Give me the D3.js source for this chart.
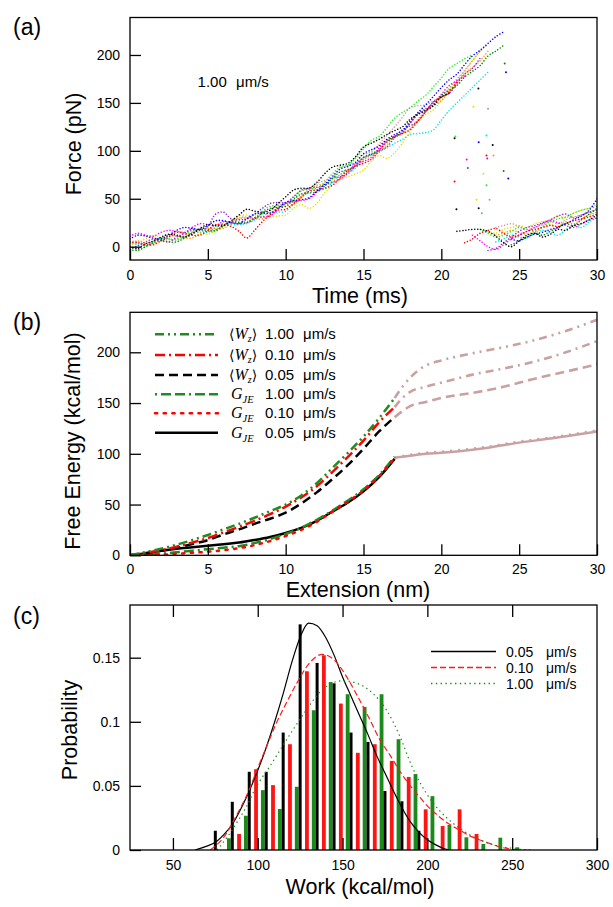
<!DOCTYPE html>
<html><head><meta charset="utf-8">
<script src="https://cdn.jsdelivr.net/npm/d3@7/dist/d3.min.js"></script>
<style>html,body{margin:0;padding:0;background:#fff;}svg{display:block;}</style>
</head><body>
<svg id="chart" width="613" height="907"></svg>
<script>
// ================= DATA =================
// ---- Panel (a): force traces (pN), sampled every 0.5 ms ----
const timeStep = 0.5;
const timeTicks = [0, 5, 10, 15, 20, 25, 30];
const forceTicks = [0, 50, 100, 150, 200];

const preBlack  = [0,-2,3,6,10,13,12,10,13,19,23,22,22,27,33,39,37,36,38,45,52,59,61,61,67,76,83,85,87,94,104,108,112,117,121,125,133,138,142,147,156,160];
const postBlack = [16,17,18,18,16,11,4,0,6,12,14,10,13,18,17,22,24,28,33];
const preRed    = [5,4,2,2,6,10,15,14,12,12,17,23,23,21,16,9,17,26,33,38,39,45,52,58,59,61,64,72,80,84,87,91,100,109,114,118,122,131,141,151,156,161,172];
const postRed   = [4,8,14,17,19,14,10,12,16,18,20,22,21,24,27,29,31,34];
const preLime   = [-1,-3,0,5,9,8,8,12,17,17,16,16,21,26,26,26,30,37,42,43,44,51,58,60,61,67,76,83,85,93,102,111,115,124,134,140,145,152,158,167,176,186,191,196,200];
const postLime  = [18,14,10,12,16,20,18,16,21,26,29,31,35,38,40,42];
const preBlue   = [8,12,11,9,8,12,17,20,19,18,22,27,27,25,24,29,34,35,35,40,46,48,49,51,58,65,73,81,84,88,97,101,105,112,117,121,131,140,148,157,166,174,180,190,199,205,212,219,224];
const postBlue  = [8,6,10,13,15,18,20,24,28,32,38,50];
const preYellow = [1,4,8,11,9,7,7,11,15,14,13,17,22,27,32,33,32,31,31,32,33,40,44,40,45,56,64,71,73,76,80,89,95,92,98,108,120,132,138,143,153,163,173,183,194,204];
const postYellow= [16,14,18,20,22,20,24,26,28,32,30,35,38,40,44];
const preMagenta= [11,14,12,11,15,17,16,15,20,24,23,22,26,25,24,25,30,31,32,39,45,47,48,50,57,64,67,70,78,86,89,93,103,111,115,119,129,139,144,149,159,168,173,178];
const postMagenta=[12,6,0,-3,2,8,12,16,20,24,27,25,22,20,24,28,30];
const preCyan   = [4,2,1,5,9,8,7,10,15,15,15,20,24,23,23,24,28,34,35,36,37,44,51,57,59,60,67,75,78,82,91,96,99,103,108,112,117,118,119,122,132,142,150,158,166,174,182];
const postCyan  = [5,8,12,10,9,14,17,15,12,18,22,20,26,30];
const prePurple = [-2,1,5,8,6,5,10,14,18,17,21,34,36,29,28,29,34,40,45,46,46,52,59,61,62,64,71,73,76,85,93,96,100,104,114,122,126,131,141,151,156,160,170,180,186,197];
const postPurple= [-4,-2,4,10,16,20,22,25,28,32,34,30,33,36,38];
const preOrange = [3,6,4,3,7,11,11,9,9,14,19,19,19,24,29,30,29,29,34,41,42,44,51,58,64,65,68,71,78,87,91,95,98,106,115,118,123,133,142,147,152,162,172,181,187,194,204];
const postOrange= [12,14,17,15,13,16,20,23,21,26,24,29,33,36];
const preRosy   = [6,5,3,6,9,12,11,10,15,19,19,18,22,26,30,31,30,31,37,43,45,47,53,60,66,69,72,75,83,92,96,99,107,116,125,135,145,147,148,152,157,165,175,184,194,204,211];
const postRosy  = [20,22,24,21,18,20,23,26,24,28,31,33,36,39];
const preDkGreen= [-3,-4,0,4,7,5,5,9,14,18,17,17,22,26,25,25,29,35,40,41,42,49,55,56,57,63,71,78,80,84,93,97,101,110,115,119,129,138,143,148,158,163,168,177,183,189,199,204,210];
const postDkGreen=[2,6,10,14,12,16,20,24,22,28,34,40];
// time (ms) at which each post-rupture segment starts
const postStartTimes = [23, 23.5, 23.5, 23.5, 22.5, 22, 23, 24.5, 21.5, 24.5, 21];

// isolated points during rupture
const jumpTime  = [20.85,20.9,20.85,20.97,22.06,23.0,22.4,22.9,23.3,22.9,22.95,23.35,21.63,21.7,22.7,22.9,24.07,24.15,22.38,24.0,24.3,22.26,22.4,23.1,22.6];
const jumpForce = [113,115,68,39,146,144,109,116,106,95,92,95,91,82,76,64,191,182,165,79,71,49,40,49,35];

// ---- Panel (b): free energy (kcal/mol) vs extension (nm) ----
const extTicks = [0, 5, 10, 15, 20, 25, 30];
const energyTicks = [0, 50, 100, 150, 200];
const extGrid = [0,1,2,3,4,5,6,7,8,9,10,11,12,13,14,15,16,17];
const wzFast  = [0,3.2,6.6,10.5,15,20,25.5,31,37,43.5,50,59,71,86,101,117,135,155];
const wzMid   = [0,2.5,5,8.5,12.5,17,22.5,28,34,40.5,48,57,68,82,97,113,131,146];
const wzSlow  = [0,2,4.5,7.5,11,15,20.5,25.5,31,36,42,51,62,75,89,105,122,136];
const gjeFast = [0,0.5,1.5,3,4.5,6,7.5,9,12,16,21,27,35,44,54,65,79,97];
const gjeMid  = [0,0,0.5,1.5,2.5,3.5,5,7,10,14,19,25,33,43,53,64,78,96];
const gjeSlow = [0,2,4.5,6.5,8,9.5,11,12.5,15,18,22,27,34,43,52,63,77,95];
const contTopExt = [17,17.5,18,18.5,19,20,22,24,26,28,30];
const contTopG   = [155,166,175,182,187,192,199,205,212,221,232];
const contMidExt = [17,17.5,18,19,20,22,24,26,28,30];
const contMidG   = [146,155,161,166,170,178,184,191,200,211];
const contBotG   = [136,142,147,151,155,160,166,174,181,188];
const contJeExt  = [17,18,19,20,22,23,25,27,30];
const contJeG    = [96,98,100,101,104,106,111,115,122];
const contJeG2   = [96,99,101,102,105,107,112,116,123];
const legendSpeedsB = ["1.00","0.10","0.05","1.00","0.10","0.05"];

// ---- Panel (c): work histograms ----
const workTicks = [50, 100, 150, 200, 250, 300];
const probTicks = [0, 0.05, 0.1, 0.15];
const binSlow  = [75,85,95,105,115,125,135,145,155,165,175,185,195];
const probSlow = [0.015,0.0376,0.061,0.061,0.0916,0.176,0.1459,0.130,0.0916,0.0843,0.046,0.038,0.015];
const binMid   = [89,99,109,119,129,139,149,159,169,179,189,199,209,219,229];
const probMid  = [0.0125,0.063,0.0506,0.0825,0.1394,0.1519,0.1142,0.0758,0.0825,0.0695,0.057,0.0317,0.0187,0.0317,0.0125];
const binFast  = [83,93,103,113,123,133,143,153,163,173,183,193,203,213,223,233,243,253];
const probFast = [0.0091,0.0267,0.0467,0.032,0.0493,0.109,0.131,0.1215,0.1116,0.1215,0.0864,0.0592,0.042,0.0195,0.0099,0.0047,0.0096,0.0021];
const fitSlowW = [63,70,75,80,85,90,95,100,105,110,115,120,125,130,135,140,145,150,155,160,165,170,175,180,185,190,195,200,205,210,213];
const fitSlowP = [0,0.003,0.006,0.012,0.02,0.032,0.046,0.062,0.08,0.1,0.122,0.146,0.166,0.177,0.175,0.166,0.152,0.135,0.12,0.105,0.09,0.074,0.06,0.046,0.033,0.022,0.014,0.008,0.004,0.001,0];
const fitMidW  = [72,80,87.5,95,100,105,111,117,123,130,138,146,152,158,166,172,178,184,190,195,201,207,213,219,225,231,237,242,248,252];
const fitMidP  = [0,0.01,0.027,0.047,0.064,0.08,0.099,0.115,0.13,0.145,0.1526,0.147,0.136,0.122,0.102,0.086,0.074,0.061,0.05,0.042,0.033,0.026,0.02,0.0156,0.011,0.0078,0.005,0.0026,0.001,0];
const fitFastW = [76,82,87.5,93,99,107,117,127,138,150,156,162,168,176,184,191,199,207,215,227,238,250,262];
const fitFastP = [0,0.01,0.021,0.033,0.049,0.065,0.086,0.106,0.125,0.132,0.131,0.128,0.122,0.109,0.088,0.065,0.045,0.031,0.021,0.0104,0.0044,0.0013,0];
const legendSpeedsC = ["0.05","0.10","1.00"];

// ================= STYLE / DRAW =================
const FONT = "'Liberation Sans',Arial,sans-serif";
const SERIF = "'Liberation Serif','DejaVu Serif',serif";
const GREEN = "#1e8c1e", RED = "#ff0000", BROWN = "#c9a1a1";
const svg = d3.select("#chart");
const defs = svg.append("defs");
function clip(id,x0,y0,x1,y1){ defs.append("clipPath").attr("id",id).append("rect").attr("x",x0).attr("y",y0).attr("width",x1-x0).attr("height",y1-y0); }
function frame(x0,y0,x1,y1){ svg.append("rect").attr("x",x0).attr("y",y0).attr("width",x1-x0).attr("height",y1-y0).attr("fill","none").attr("stroke","#000").attr("stroke-width",1.3); }
function styleAxis(g){ g.select(".domain").remove(); g.selectAll("line").attr("stroke","#000").attr("stroke-width",1.3); g.selectAll("text").attr("font-family",FONT).attr("font-size",14).attr("fill","#000"); }
function txt(x,y,s,size,anchor){ return svg.append("text").attr("x",x).attr("y",y).attr("font-family",FONT).attr("font-size",size).attr("text-anchor",anchor||"start").attr("fill","#000").text(s); }
function ytitle(x,y,s){ svg.append("text").attr("transform",`translate(${x},${y}) rotate(-90)`).attr("text-anchor","middle").attr("dominant-baseline","central").attr("font-family",FONT).attr("font-size",21.5).text(s); }

// ---------- Panel (a) ----------
const xA = d3.scaleLinear().domain([0,30]).range([130,597]);
const yA = d3.scaleLinear().domain([-13.9,239.1]).range([260,17.5]);
clip("clipA",130,17.5,597,260);
const traces = [
  [preYellow,postYellow],[preCyan,postCyan],[preOrange,postOrange],[preRosy,postRosy],
  [preLime,postLime],[preMagenta,postMagenta],[prePurple,postPurple],[preDkGreen,postDkGreen],
  [preRed,postRed],[preBlue,postBlue],[preBlack,postBlack]
];
const traceColors = ["#e6e000","#00e5ee","#ff9900","#cc9999","#22ee22","#ff00ff","#9922cc","#008800","#ff0000","#0000ff","#000000"];
const jumpColor = ["#000","#22ee22","#ff0000","#000","#e6e000","#aa9999","#0000ff","#00e5ee","#000","#ff0000","#9922cc","#ff9900","#ff00ff","#9922cc","#e6e000","#22ee22","#008800","#0000ff","#000","#008800","#0000ff","#e6e000","#000","#aa9999","#22ee22"];
const gA = svg.append("g").attr("clip-path","url(#clipA)");
const dotLine = d3.line().x(d=>xA(d[0])).y(d=>yA(d[1])).curve(d3.curveCatmullRom.alpha(0.5));
traces.forEach((tr,k)=>{
  const prePts = tr[0].map((v,i)=>[i*timeStep, v]);
  const postPts = tr[1].map((v,i)=>[postStartTimes[k]+i*timeStep, v]);
  [prePts, postPts].forEach(pts=>{
    gA.append("path").attr("d",dotLine(pts)).attr("fill","none").attr("stroke",traceColors[k])
      .attr("stroke-width",1.6).attr("stroke-linecap","round").attr("stroke-dasharray","0 3");
  });
});
gA.selectAll("circle.j").data(jumpTime).join("circle").attr("class","j")
  .attr("cx",d=>xA(d)).attr("cy",(d,i)=>yA(jumpForce[i])).attr("r",1).attr("fill",(d,i)=>jumpColor[i]);
svg.append("g").attr("transform","translate(0,260)").call(d3.axisBottom(xA).tickValues(timeTicks).tickSize(-11).tickPadding(10).tickFormat(d3.format("d"))).call(styleAxis);
svg.append("g").attr("transform","translate(130,0)").call(d3.axisLeft(yA).tickValues(forceTicks).tickSize(-11).tickPadding(10).tickFormat(d3.format("d"))).call(styleAxis);
frame(130,17.5,597,260);
txt(197.6,87,"1.00",15); txt(236,87,"μm/s",15);
txt(360,303,"Time (ms)",21.5,"middle");
ytitle(74,144,"Force (pN)");
txt(13,35,"(a)",23);

// ---------- Panel (b) ----------
const xB = d3.scaleLinear().domain([0,30]).range([130,597]);
const yB = d3.scaleLinear().domain([0,239.4]).range([555.3,312.3]);
clip("clipB",130,312.3,597,555.3);
const gB = svg.append("g").attr("clip-path","url(#clipB)");
const lineB = d3.line().x(d=>xB(d[0])).y(d=>yB(d[1])).curve(d3.curveMonotoneX);
function drawB(xs, ys, color, dash, w){
  const p = gB.append("path").attr("d",lineB(xs.map((x,i)=>[x,ys[i]]))).attr("fill","none")
    .attr("stroke",color).attr("stroke-width",w||2.5);
  if(dash) p.attr("stroke-dasharray",dash);
  return p;
}
const stylesB = [
  {c:GREEN, d:"9,4,2,4,2,4"},
  {c:RED, d:"10,4,2,4"},
  {c:"#000", d:"9,5"},
  {c:GREEN, d:"2,4,10,4,10,4"},
  {c:RED, d:"2.2,6.5"},
  {c:"#000", d:null}
];
drawB(contJeExt, contJeG, BROWN, null, 2.5);
drawB(contJeExt, contJeG2, BROWN, "2,6", 2.5);
drawB(contTopExt, contTopG, BROWN, "8,5,2,5,2,5", 2.6);
drawB(contMidExt, contMidG, BROWN, "8,5,2,5", 2.6);
drawB(contMidExt, contBotG, BROWN, "9,5", 2.6);
drawB(extGrid, gjeSlow, stylesB[5].c, stylesB[5].d);
drawB(extGrid, gjeFast, stylesB[3].c, stylesB[3].d);
drawB(extGrid, gjeMid, stylesB[4].c, stylesB[4].d).attr("stroke-linecap","round");
drawB(extGrid, wzSlow, stylesB[2].c, stylesB[2].d);
drawB(extGrid, wzMid, stylesB[1].c, stylesB[1].d);
drawB(extGrid, wzFast, stylesB[0].c, stylesB[0].d);
svg.append("g").attr("transform","translate(0,555.3)").call(d3.axisBottom(xB).tickValues(extTicks).tickSize(-11).tickPadding(9).tickFormat(d3.format("d"))).call(styleAxis);
svg.append("g").attr("transform","translate(130,0)").call(d3.axisLeft(yB).tickValues(energyTicks).tickSize(-11).tickPadding(10).tickFormat(d3.format("d"))).call(styleAxis);
frame(130,312.3,597,555.3);
// legend (b)
const rowYB = [334.3,355,375,394.3,413.3,432.7];
legendSpeedsB.forEach((s,i)=>{
  const y = rowYB[i];
  const l = svg.append("line").attr("x1",155).attr("x2",218).attr("y1",y).attr("y2",y)
    .attr("stroke",stylesB[i].c).attr("stroke-width",2.6);
  if(stylesB[i].d) l.attr("stroke-dasharray",stylesB[i].d);
  if(i===4) l.attr("stroke-linecap","round");
  const t = svg.append("text").attr("x",229).attr("y",y+5).attr("font-family",SERIF).attr("font-size",16).attr("fill","#000");
  if(i<3){
    t.append("tspan").attr("font-family","'DejaVu Serif',serif").attr("font-size",14).text("⟨");
    t.append("tspan").attr("font-style","italic").text("W");
    t.append("tspan").attr("font-style","italic").attr("font-size",10).attr("dy",3).text("z");
    t.append("tspan").attr("font-family","'DejaVu Serif',serif").attr("font-size",14).attr("dy",-3).text("⟩");
  } else {
    t.append("tspan").attr("x",231).attr("font-style","italic").text("G");
    t.append("tspan").attr("font-style","italic").attr("font-size",10.5).attr("dy",4).text("JE");
  }
  txt(265,y+5,s,15); txt(303,y+5,"μm/s",15);
});
txt(358,597,"Extension (nm)",21.5,"middle");
ytitle(73,441,"Free Energy (kcal/mol)");
txt(13,330,"(b)",23);

// ---------- Panel (c) ----------
const xC = d3.scaleLinear().domain([24.7,300]).range([130,597]);
const yC = d3.scaleLinear().domain([0,0.1911]).range([850,605]);
clip("clipC",130,605,597,850);
const gC = svg.append("g").attr("clip-path","url(#clipC)");
function bars(bins, probs, color, w){
  gC.append("g").selectAll("rect").data(bins).join("rect")
    .attr("x",d=>xC(d)-w/2).attr("width",w)
    .attr("y",(d,i)=>yC(probs[i])).attr("height",(d,i)=>yC(0)-yC(probs[i])).attr("fill",color);
}
bars(binFast, probFast, "#1a8a1a", 3.8);
bars(binMid, probMid, "#ff1414", 3.8);
bars(binSlow, probSlow, "#000", 3.0);
const lineC = d3.line().x(d=>xC(d[0])).y(d=>yC(d[1])).curve(d3.curveMonotoneX);
const stylesC = [
  {c:"#000", d:null},
  {c:"#ff1a1a", d:"6,3"},
  {c:"#1a8a1a", d:"1.4,3.4"}
];
[[fitSlowW,fitSlowP],[fitMidW,fitMidP],[fitFastW,fitFastP]].forEach((f,k)=>{
  const p = gC.append("path").attr("d",lineC(f[0].map((x,i)=>[x,f[1][i]]))).attr("fill","none")
    .attr("stroke",stylesC[k].c).attr("stroke-width",1.2);
  if(stylesC[k].d) p.attr("stroke-dasharray",stylesC[k].d);
});
svg.append("g").attr("transform","translate(0,850)").call(d3.axisBottom(xC).tickValues(workTicks).tickSize(-12).tickPadding(10).tickFormat(d3.format("d"))).call(styleAxis);
svg.append("g").attr("transform","translate(0,605)").call(d3.axisTop(xC).tickValues(workTicks.slice(0,5)).tickSize(-12).tickFormat("")).call(styleAxis);
svg.append("g").attr("transform","translate(130,0)").call(d3.axisLeft(yC).tickValues(probTicks).tickSize(-11).tickPadding(10).tickFormat(d=>d===0?"0":String(d))).call(styleAxis);
frame(130,605,597,850);
const rowYC = [651.5,667.5,683.5];
legendSpeedsC.forEach((s,i)=>{
  const y = rowYC[i];
  const l = svg.append("line").attr("x1",431).attr("x2",496).attr("y1",y).attr("y2",y)
    .attr("stroke",stylesC[i].c).attr("stroke-width",1.5);
  if(stylesC[i].d) l.attr("stroke-dasharray",stylesC[i].d);
  txt(506,y+5,s,14); txt(546,y+5,"μm/s",14);
});
txt(360,894,"Work (kcal/mol)",21.5,"middle");
ytitle(70,730,"Probability");
txt(13,624,"(c)",23);
</script>
</body></html>
